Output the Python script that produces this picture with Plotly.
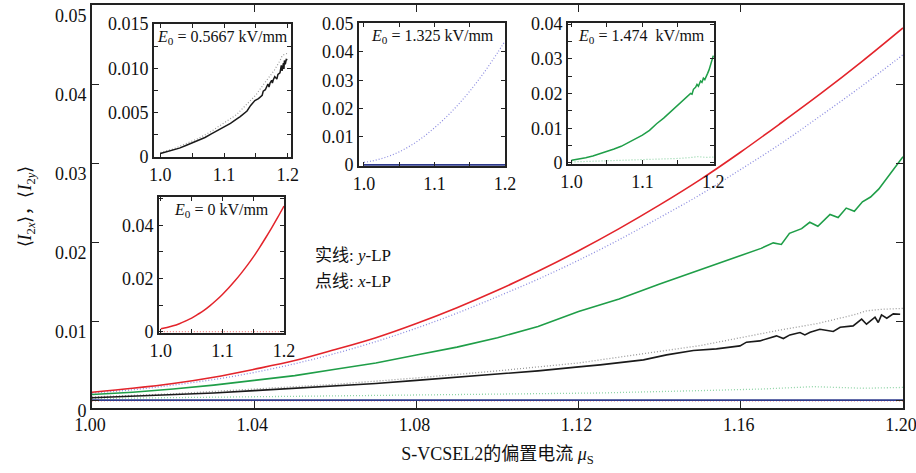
import plotly.graph_objects as go

# ---------------- data ----------------
x_grid = [1.00, 1.01, 1.02, 1.03, 1.04, 1.05, 1.06, 1.07, 1.08, 1.09, 1.10,
          1.11, 1.12, 1.13, 1.14, 1.15, 1.16, 1.17, 1.18, 1.19, 1.20]

# E0 = 0 kV/mm
red_y = [0.0011, 0.0016, 0.0022, 0.0030, 0.0040, 0.0051, 0.0065, 0.0080, 0.0098, 0.0118, 0.0140,
         0.0164, 0.0190, 0.0218, 0.0248, 0.0280, 0.0315, 0.0352, 0.0390, 0.0430, 0.0472]
red_x_dot_x = [1.00, 1.20]
red_x_dot = [0.0000, 0.0000]

# E0 = 1.325 kV/mm
blue_y_x = [1.00, 1.20]
blue_y = [0.0001, 0.0001]
blue_x = [0.0010, 0.0014, 0.0020, 0.0027, 0.0036, 0.0047, 0.0060, 0.0075, 0.0092, 0.0111, 0.0132,
          0.0154, 0.0178, 0.0204, 0.0232, 0.0261, 0.0293, 0.0326, 0.0362, 0.0399, 0.0438]

# E0 = 1.474 kV/mm
green_y_x = [1.00, 1.01, 1.02, 1.03, 1.04, 1.05, 1.06, 1.07, 1.08, 1.09, 1.10, 1.11, 1.12, 1.13,
             1.14, 1.15, 1.16, 1.165, 1.168, 1.170, 1.172, 1.175, 1.177, 1.179, 1.182, 1.184,
             1.186, 1.188, 1.190, 1.192, 1.194, 1.196, 1.198, 1.200]
green_y = [0.0008, 0.0011, 0.0015, 0.0020, 0.0026, 0.0032, 0.0040, 0.0048, 0.0058, 0.0068, 0.0080,
           0.0094, 0.0113, 0.0129, 0.0148, 0.0166, 0.0184, 0.0193, 0.0200, 0.0198, 0.0212, 0.0218,
           0.0226, 0.0221, 0.0236, 0.0232, 0.0244, 0.0240, 0.0252, 0.0258, 0.0268, 0.0282, 0.0295,
           0.0309]
green_x_x = [1.00, 1.05, 1.10, 1.125, 1.15, 1.165, 1.178, 1.19, 1.20]
green_x = [0.0003, 0.0006, 0.0009, 0.0010, 0.0013, 0.0015, 0.0018, 0.0016, 0.0017]

# E0 = 0.5667 kV/mm
black_y_x = [1.00, 1.01, 1.02, 1.03, 1.04, 1.05, 1.06, 1.07, 1.08, 1.09, 1.10, 1.11, 1.12,
             1.1253, 1.136, 1.1417, 1.1483, 1.154, 1.1598, 1.1614, 1.1647, 1.1688, 1.1705,
             1.1721, 1.1746, 1.1758, 1.1771, 1.1795, 1.1828, 1.1845, 1.1877, 1.1898, 1.191,
             1.1931, 1.1939, 1.1947, 1.196, 1.1976, 1.1993]
black_y = [0.0004, 0.0006, 0.0008, 0.0010, 0.0013, 0.0016, 0.0019, 0.0022, 0.0026, 0.0030,
           0.0034, 0.0038, 0.0043, 0.00456, 0.00519, 0.00582, 0.00637, 0.00658, 0.00696,
           0.00743, 0.00759, 0.00823, 0.00789, 0.00835, 0.00865, 0.00835, 0.00869, 0.00907,
           0.00878, 0.00932, 0.00949, 0.01034, 0.0097, 0.01059, 0.00992, 0.01089, 0.01046,
           0.01101, 0.01097]
black_x_x = [1.00, 1.02, 1.04, 1.06, 1.08, 1.10, 1.12, 1.1253, 1.15, 1.16, 1.17, 1.179,
             1.188, 1.191, 1.195, 1.20]
black_x = [0.0005, 0.0009, 0.0015, 0.0021, 0.0029, 0.0038, 0.0048, 0.0052, 0.0070, 0.0080,
           0.0090, 0.0098, 0.0109, 0.0114, 0.0116, 0.0117]

# ---------------- style ----------------
RED = "#e3242b"
RED_DOT = "#f08080"
BLUE = "#2e3a8c"
BLUE_DOT = "#8c8ce0"
GREEN = "#1f9e48"
GREEN_DOT = "#8fd4a6"
BLACK = "#1a1a1a"
BLACK_DOT = "#9a9a9a"
FRAME = "#222222"
SERIF = "Liberation Serif"
DOT = "1px,2px"

fig = go.Figure()


def add(x, y, color, dash, width, xa, ya, shape="linear"):
    fig.add_trace(go.Scatter(x=x, y=y, mode="lines", xaxis=xa, yaxis=ya,
                             line=dict(color=color, dash=dash, width=width, shape=shape),
                             showlegend=False, hoverinfo="skip"))


# main axes: dotted first then solid
add(red_x_dot_x, red_x_dot, RED_DOT, DOT, 1.2, "x", "y")
add(green_x_x, green_x, GREEN_DOT, DOT, 1.3, "x", "y")
add(black_x_x, black_x, BLACK_DOT, DOT, 1.3, "x", "y")
add(x_grid, blue_x, BLUE_DOT, DOT, 1.3, "x", "y", "spline")
add(blue_y_x, blue_y, BLUE, "solid", 1.6, "x", "y")
add(black_y_x, black_y, BLACK, "solid", 1.6, "x", "y")
add(green_y_x, green_y, GREEN, "solid", 1.6, "x", "y")
add(x_grid, red_y, RED, "solid", 1.6, "x", "y", "spline")

# inset 1: E0 = 0.5667
add(black_x_x, black_x, BLACK_DOT, DOT, 1.2, "x2", "y2")
add(black_y_x, black_y, BLACK, "solid", 1.5, "x2", "y2")
# inset 2: E0 = 1.325
add(x_grid, blue_x, BLUE_DOT, DOT, 1.2, "x3", "y3", "spline")
add(blue_y_x, blue_y, BLUE, "solid", 1.6, "x3", "y3")
# inset 3: E0 = 1.474
add(green_x_x, green_x, GREEN_DOT, DOT, 1.2, "x4", "y4")
add(green_y_x, green_y, GREEN, "solid", 1.5, "x4", "y4")
# inset 4: E0 = 0
add(red_x_dot_x, red_x_dot, RED_DOT, DOT, 1.2, "x5", "y5")
add(x_grid, red_y, RED, "solid", 1.5, "x5", "y5", "spline")

W, H = 916, 473
ML, MR, MT, MB = 92, 13, 5, 65
PW, PH = W - ML - MR, H - MT - MB


def xd(a, b):
    return [(a - ML) / PW, (b - ML) / PW]


def yd(top, bottom):
    return [(H - MB - bottom) / PH, (H - MB - top) / PH]


tickfont = dict(family=SERIF, size=18, color="#111")
axis_common = dict(showgrid=False, zeroline=False, showline=True, mirror="ticks",
                   linecolor=FRAME, ticks="inside", tickcolor=FRAME, tickfont=tickfont,
                   automargin=False, ticklabeloverflow="allow")
title_font = dict(family="Liberation Serif, Noto Sans CJK SC", size=18, color="#111")

layout = dict(
    template="none",
    width=W, height=H, margin=dict(l=ML, r=MR, t=MT, b=MB, autoexpand=False),
    paper_bgcolor="white", plot_bgcolor="white",
    xaxis=dict(**axis_common, domain=[0, 1], range=[1.0, 1.2], linewidth=1.6,
               tickvals=[1.00, 1.04, 1.08, 1.12, 1.16, 1.20],
               ticktext=["1.00", "1.04", "1.08", "1.12", "1.16", "1.20"], ticklen=7,
               ticklabelshift=-2,
               title=dict(text="S-VCSEL2的偏置电流 <i>μ</i><sub>S</sub>",
                          font=title_font, standoff=13)),
    yaxis=dict(**axis_common, domain=[0, 1], range=[-0.0009, 0.0501], linewidth=1.6,
               tickvals=[0, 0.01, 0.02, 0.03, 0.04, 0.05],
               ticktext=["0", "0.01", "0.02", "0.03", "0.04", "0.05"], ticklen=7,
               ticklabelshift=10,
               title=dict(text="⟨<i>I</i><sub>2<i>x</i></sub>⟩，⟨<i>I</i><sub>2<i>y</i></sub>⟩",
                          font=title_font, standoff=19)),
)

insets = [
    # (idx, px-left, px-right, py-top, py-bottom, xrange, yrange, yticks, ylabels, yminor)
    (2, 154, 291, 24, 157, [0.99, 1.205], [0, 0.015],
     [0, 0.005, 0.010, 0.015], ["0", "0.005", "0.010", "0.015"],
     [0.0025, 0.0075, 0.0125]),
    (3, 359, 505, 23, 166, [0.993, 1.2], [-0.0003, 0.0502],
     [0, 0.01, 0.02, 0.03, 0.04, 0.05], ["0", "0.01", "0.02", "0.03", "0.04", "0.05"],
     []),
    (4, 568, 714, 23, 164, [0.995, 1.201], [-0.0003, 0.0403],
     [0, 0.01, 0.02, 0.03, 0.04], ["0", "0.01", "0.02", "0.03", "0.04"],
     [0.005, 0.015, 0.025, 0.035]),
    (5, 159, 284, 197, 333, [0.997, 1.2], [-0.0005, 0.0506],
     [0, 0.02, 0.04], ["0", "0.02", "0.04"],
     [0.01, 0.03, 0.05]),
]
for idx, l, r, t, b, xr, yr, yt, yl, ym in insets:
    layout[f"xaxis{idx}"] = dict(**axis_common, domain=xd(l, r), range=xr, anchor=f"y{idx}",
                                 linewidth=2, ticklen=4,
                                 tickvals=[1.0, 1.1, 1.2], ticktext=["1.0", "1.1", "1.2"],
                                 minor=dict(tickvals=[1.05, 1.15], ticks="inside", ticklen=4,
                                            tickcolor=FRAME, showgrid=False))
    ydict = dict(**axis_common, domain=yd(t, b), range=yr, anchor=f"x{idx}",
                 linewidth=2, ticklen=4, tickvals=yt, ticktext=yl)
    if ym:
        ydict["minor"] = dict(tickvals=ym, ticks="inside", ticklen=4, tickcolor=FRAME,
                              showgrid=False)
    layout[f"yaxis{idx}"] = ydict

fig.update_layout(**layout)

ann_font = dict(family=SERIF, size=16, color="#111")
labels = [
    ("x2", "y2", "<i>E</i><sub>0</sub> = 0.5667 kV/mm"),
    ("x3", "y3", "<i>E</i><sub>0</sub> = 1.325 kV/mm"),
    ("x4", "y4", "<i>E</i><sub>0</sub> = 1.474  kV/mm"),
    ("x5", "y5", "<i>E</i><sub>0</sub> = 0 kV/mm"),
]
for xa, ya, txt in labels:
    fig.add_annotation(x=0.5, y=0.985, xref=f"{xa} domain", yref=f"{ya} domain",
                       text=txt, showarrow=False, xanchor="center", yanchor="top",
                       font=ann_font)

cjk_font = dict(family="Liberation Serif, Noto Sans CJK SC", size=17, color="#111")
fig.add_annotation(x=(313 - ML) / PW, y=(H - MB - 255) / PH, xref="paper", yref="paper",
                   text="实线: <i>y</i>-LP", showarrow=False, xanchor="left", yanchor="middle",
                   font=cjk_font)
fig.add_annotation(x=(313 - ML) / PW, y=(H - MB - 281) / PH, xref="paper", yref="paper",
                   text="点线: <i>x</i>-LP", showarrow=False, xanchor="left", yanchor="middle",
                   font=cjk_font)

fig.write_html("out.html", config={"displayModeBar": False},
               post_script="document.body.style.margin='0';document.body.style.overflow='hidden';")
